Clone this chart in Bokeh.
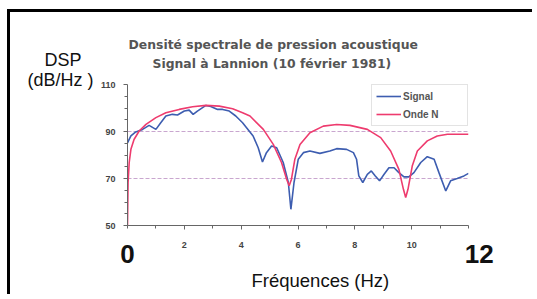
from bokeh.plotting import figure
from bokeh.models import FixedTicker, Range1d, Title, LinearAxis, Grid
from bokeh.embed import file_html
from bokeh.resources import INLINE

# ---- data ----
sig_f = [0, 0.12, 0.29, 0.53, 0.76, 1.0, 1.17, 1.35, 1.58, 1.76, 2.0, 2.17, 2.31, 2.46, 2.76, 2.93,
         3.17, 3.35, 3.58, 3.81, 4.05, 4.19, 4.42, 4.6, 4.75, 4.89, 5.07, 5.25, 5.48, 5.66, 5.75,
         5.86, 6.01, 6.19, 6.42, 6.77, 7.12, 7.36, 7.71, 7.95, 8.06, 8.14, 8.28, 8.44, 8.58, 8.72,
         8.87, 9.03, 9.2, 9.38, 9.55, 9.73, 9.9, 10.08, 10.32, 10.55, 10.79, 10.96, 11.2, 11.37,
         11.6, 11.84, 12.0]
sig_db = [85.2, 88.1, 89.8, 90.9, 92.6, 90.9, 93.7, 96.6, 97.3, 97.0, 98.7, 99.1, 97.3, 98.7, 101.1,
          100.6, 99.4, 99.4, 98.7, 96.6, 93.7, 91.6, 88.1, 83.1, 77.0, 81.0, 83.8, 83.1, 76.8, 68.3,
          56.9, 68.3, 78.2, 81.0, 81.7, 80.7, 81.7, 82.7, 82.4, 81.0, 78.2, 71.1, 68.3, 71.8, 73.2,
          71.1, 69.0, 71.8, 74.6, 74.6, 72.5, 70.7, 70.7, 72.5, 76.8, 79.3, 78.2, 72.5, 64.7, 69.0,
          70.0, 71.1, 72.2]

ond_f = [0, 0.02, 0.06, 0.12, 0.23, 0.41, 0.65, 1.0, 1.35, 1.82, 2.29, 2.76, 3.23, 3.7, 4.05, 4.31,
         4.78, 5.13, 5.42, 5.6, 5.69, 5.77, 5.89, 6.07, 6.42, 6.89, 7.36, 7.83, 8.44, 8.91, 9.26,
         9.55, 9.71, 9.79, 9.87, 10.02, 10.2, 10.55, 10.9, 11.26, 12.0]
ond_db = [50, 68.3, 76.8, 82.4, 86.6, 90.2, 93.0, 95.9, 98.0, 99.4, 100.5, 101.1, 100.8, 99.7, 98.0,
          96.6, 90.9, 84.5, 76.8, 69.7, 66.9, 69.7, 78.2, 84.5, 89.5, 92.3, 93.0, 92.6, 90.9, 87.4,
          81.7, 73.9, 65.4, 61.9, 65.4, 75.3, 81.7, 86.0, 88.1, 88.8, 88.8]

x_small_ticks = [2, 4, 6, 8, 10]
x_big_ticks = [0, 12]
y_ticks = [50, 70, 90, 110]
title1 = "Densité spectrale de pression acoustique"
title2 = "Signal à Lannion (10 février 1981)"
y_title = ["DSP", "(dB/Hz )"]
x_title = "Fréquences (Hz)"

# ---- figure ----
W, H = 525, 285
FL, FW, FT, FH = 117, 341, 72, 141   # plot frame in canvas px

p = figure(width=W, height=H, x_range=Range1d(0, 12), y_range=Range1d(50, 110),
           min_border_left=FL, min_border_right=W - FL - FW,
           min_border_top=FT, min_border_bottom=H - FT - FH,
           toolbar_location=None, output_backend="svg")
p.outline_line_color = None
p.background_fill_color = "white"
p.border_fill_color = "white"
# black frame of the original document (top and left edges)
p.styles = {"margin-left": "7px", "margin-top": "9px",
            "border-top": "3px solid black", "border-left": "3px solid black"}

# grid
p.xgrid.visible = False
p.ygrid.ticker = FixedTicker(ticks=[70, 90])
p.ygrid.grid_line_color = "#c9a6cf"
p.ygrid.grid_line_dash = "4 2"
p.add_layout(Grid(dimension=1, ticker=FixedTicker(ticks=[110]), grid_line_color="#9a9a9a",
                  grid_line_dash="3 2"))

def style_axis(ax, size="9px"):
    ax.axis_line_color = "#666666"
    ax.major_tick_line_color = "#666666"
    ax.minor_tick_line_color = "#666666"
    ax.major_tick_in = 0
    ax.major_tick_out = 4
    ax.minor_tick_in = 0
    ax.minor_tick_out = 3
    ax.major_label_text_font = "Liberation Sans"
    ax.major_label_text_font_style = "bold"
    ax.major_label_text_font_size = size
    ax.major_label_text_color = "#444444"

style_axis(p.xaxis[0])
style_axis(p.yaxis[0])
p.xaxis.ticker = FixedTicker(ticks=x_small_ticks, minor_ticks=[0, 1, 3, 5, 7, 9, 11, 12])
p.xaxis.major_label_standoff = 12
p.yaxis.ticker = FixedTicker(ticks=y_ticks, minor_ticks=[55, 60, 65, 75, 80, 85, 95, 100, 105])
p.yaxis.major_label_standoff = 8

# second bottom axis carrying the big "0" and "12"
ax2 = LinearAxis(ticker=FixedTicker(ticks=x_big_ticks, minor_ticks=[]))
ax2.axis_line_color = None
ax2.major_tick_line_color = None
ax2.minor_tick_line_color = None
ax2.major_tick_in = 0
ax2.major_tick_out = 0
ax2.minor_tick_in = 0
ax2.minor_tick_out = 0
ax2.major_label_text_font = "Liberation Sans"
ax2.major_label_text_font_style = "bold"
ax2.major_label_text_font_size = "26px"
ax2.major_label_text_color = "#111111"
ax2.major_label_standoff = -12
ax2.major_label_overrides = {12: "\u00a0\u00a0\u00a012"}
p.add_layout(ax2, "below")

# curves
p.line(sig_f, sig_db, line_color="#3d5db0", line_width=1.6, legend_label="Signal")
p.line(ond_f, ond_db, line_color="#ee3b6e", line_width=1.6, legend_label="Onde N")

lg = p.legend[0]
lg.location = "top_right"
lg.margin = 0
lg.padding = 4
lg.spacing = 4
lg.glyph_width = 25
lg.glyph_height = 14
lg.label_standoff = 2
lg.label_width = 60
lg.label_text_font = "Liberation Sans"
lg.label_text_font_style = "bold"
lg.label_text_font_size = "10px"
lg.label_text_color = "#555555"
lg.border_line_color = "#c8c8c8"
lg.background_fill_alpha = 1

# texts around the frame: Titles, each centred in its own panel slot
def ttl(text, side, offset, standoff, size, style, color, font):
    t = Title(text=text, align="left", offset=offset, standoff=standoff,
              vertical_align="middle", text_font=font, text_font_size=size,
              text_font_style=style, text_color=color)
    p.add_layout(t, side)

# above: nearest to the frame first
ttl(y_title[1], "above", -100, -12, "18px", "normal", "#111111", "Liberation Sans")
# empty second line lets the subtitle sit low in its slot, beside "DSP"
ttl(title2 + "\n", "above", 25, -24, "12.4px", "bold", "#555555", "DejaVu Sans")
ttl(y_title[0], "above", -83, -9, "18px", "normal", "#111111", "Liberation Sans")
ttl(title1, "above", 1, 1, "12.4px", "bold", "#555555", "DejaVu Sans")
# below, after the two axes
ttl(x_title, "below", 124, -5, "18.5px", "normal", "#111111", "Liberation Sans")

open("out.html", "w").write(file_html(p, INLINE))
